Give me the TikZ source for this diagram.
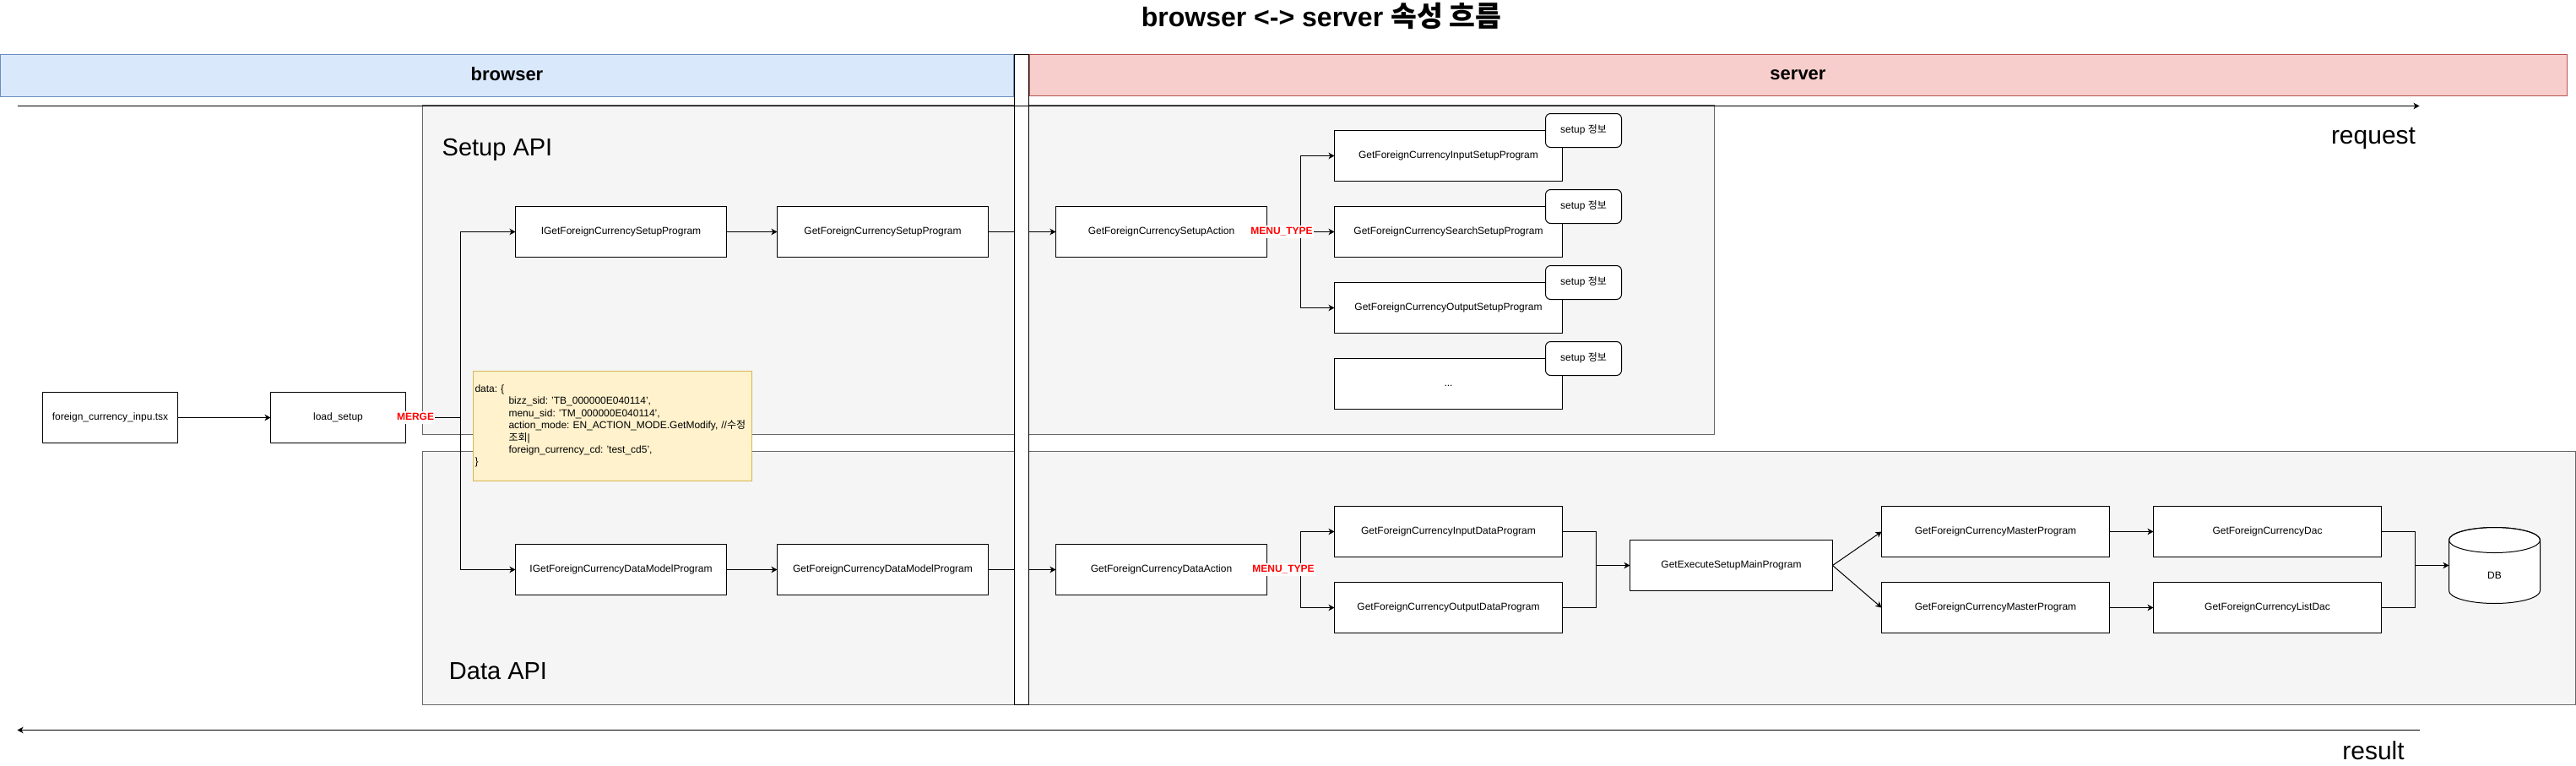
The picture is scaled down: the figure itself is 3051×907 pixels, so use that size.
\documentclass[tikz,border=0pt]{standalone}
\usepackage{fontspec}
\setmainfont{Liberation Sans}
\newfontfamily\cjk{Noto Sans CJK KR}
\usetikzlibrary{arrows.meta,calc}
\frenchspacing
\newcommand{\ko}[1]{{\cjk #1}}
\tikzset{
  px/.style={x=1pt,y=-1pt,line width=1pt},
  fsize/.style={font=\fontsize{#1}{#1}\selectfont},
  base/.style={inner sep=0pt,outer sep=0pt,align=center,text height=9pt,text depth=2.5pt,fsize=12},
  prog/.style={base,draw=black,fill=white,minimum width=250pt,minimum height=60pt},
  wideprog/.style={prog,minimum width=270pt},
  note/.style={base,draw=black,fill=white,rounded corners=6pt,minimum width=90pt,minimum height=40pt},
  group/.style={inner sep=0pt,outer sep=0pt},
  band/.style={inner sep=0pt,outer sep=0pt,font=\fontsize{22}{26}\selectfont\bfseries,minimum height=50pt,text height=16pt,text depth=4.5pt},
  big/.style={inner sep=0pt,anchor=base,font=\fontsize{30}{34}\selectfont},
  apititle/.style={big,font=\fontsize{29}{33}\selectfont},
  redlabel/.style={fill=white,text=red,inner xsep=1pt,inner ysep=2pt,outer sep=0pt,text height=9pt,text depth=2.5pt,font=\fontsize{12}{14}\selectfont\bfseries},
  arr/.style={draw=black,-{Stealth[length=7pt,width=7.5pt,inset=2pt]}},
}
\definecolor{bandblue}{HTML}{DAE8FC}
\definecolor{bandblueline}{HTML}{6C8EBF}
\definecolor{bandred}{HTML}{F8CECC}
\definecolor{bandredline}{HTML}{B85450}
\definecolor{noteyellow}{HTML}{FFF2CC}
\definecolor{noteyellowline}{HTML}{D6B656}
\definecolor{groupfill}{HTML}{F5F5F5}
\definecolor{groupline}{HTML}{666666}
\begin{document}
\begin{tikzpicture}[px]
\useasboundingbox (0,0) rectangle (3051,907);
\fill[white] (0,0) rectangle (3051,907);

% groups
\node[group,draw=groupline,fill=groupfill,minimum width=1530pt,minimum height=390pt] (setupgrp) at (1265.5,319.5) {};
\node[group,draw=groupline,fill=groupfill,minimum width=2550pt,minimum height=300pt] (datagrp) at (1775.5,684.5) {};

% title and bands
\node[inner sep=0pt,font=\fontsize{32}{36}\selectfont\bfseries] (title) at (1565,19) {browser <-> server {\cjk\bfseries\fontsize{33.5}{36}\selectfont 속성 흐름}};
\node[band,draw=bandblueline,fill=bandblue,minimum width=1200pt] (browser) at (600.5,89.5) {browser};
\node[band,draw=bandredline,fill=bandred,minimum width=1821pt,minimum height=49pt] (server) at (2129.5,89) {server};

% group captions
\node[apititle] (setuptitle) at (589,184) {Setup API};
\node[apititle] (datatitle) at (590,804) {Data API};
\node[big] (request) at (2811,170) {request};
\node[big] (result) at (2811,899) {result};

% boxes
\node[prog,minimum width=160pt] (tsx) at (130.5,494.5) {foreign\_currency\_inpu.tsx};
\node[prog,minimum width=160pt] (load) at (400.5,494.5) {load\_setup};

\node[prog] (isetup) at (735.5,274.5) {IGetForeignCurrencySetupProgram};
\node[prog] (gsetup) at (1045.5,274.5) {GetForeignCurrencySetupProgram};
\node[prog] (asetup) at (1375.5,274.5) {GetForeignCurrencySetupAction};

\node[wideprog] (pin) at (1715.5,184.5) {GetForeignCurrencyInputSetupProgram};
\node[wideprog] (psearch) at (1715.5,274.5) {GetForeignCurrencySearchSetupProgram};
\node[wideprog] (pout) at (1715.5,364.5) {GetForeignCurrencyOutputSetupProgram};
\node[wideprog] (pmore) at (1715.5,454.5) {...};

\node[note] (n1) at (1875.5,154.5) {setup \ko{정보}};
\node[note] (n2) at (1875.5,244.5) {setup \ko{정보}};
\node[note] (n3) at (1875.5,334.5) {setup \ko{정보}};
\node[note] (n4) at (1875.5,424.5) {setup \ko{정보}};

\node[prog] (idata) at (735.5,674.5) {IGetForeignCurrencyDataModelProgram};
\node[prog] (gdata) at (1045.5,674.5) {GetForeignCurrencyDataModelProgram};
\node[prog] (adata) at (1375.5,674.5) {GetForeignCurrencyDataAction};

\node[wideprog] (din) at (1715.5,629.5) {GetForeignCurrencyInputDataProgram};
\node[wideprog] (dout) at (1715.5,719.5) {GetForeignCurrencyOutputDataProgram};
\node[prog,minimum width=240pt] (exec) at (2050.5,669.5) {GetExecuteSetupMainProgram};
\node[wideprog] (m1) at (2363.5,629.5) {GetForeignCurrencyMasterProgram};
\node[wideprog] (m2) at (2363.5,719.5) {GetForeignCurrencyMasterProgram};
\node[wideprog] (dac) at (2685.5,629.5) {GetForeignCurrencyDac};
\node[wideprog] (ldac) at (2685.5,719.5) {GetForeignCurrencyListDac};

% DB
\draw[fill=white] (2900.5,639.5) -- (2900.5,699.5) arc[start angle=180,end angle=360,x radius=54pt,y radius=15pt] -- (3008.5,639.5) arc[start angle=0,end angle=180,x radius=54pt,y radius=15pt] -- cycle;
\draw (2954.5,639.5) ellipse [x radius=54pt,y radius=15pt];
\node[inner sep=0pt,outer sep=0pt,minimum width=108pt,minimum height=90pt] (db) at (2954.5,669.5) {};
\node[base] (dblabel) at (2954.5,682) {DB};

% connectors
\coordinate (mergeturn) at (545.5,494.5);
\coordinate (setupturn) at (1540.5,274.5);
\coordinate (dataturn) at (1540.5,674.5);
\coordinate (joinin) at (1890.5,669.5);
\coordinate (joindb) at (2860.5,669.5);

\draw[arr] (tsx) -- (load);
\draw[arr] (load.east) -- (mergeturn) |- (isetup.west);
\draw[arr] (mergeturn) |- (idata.west);
\draw[arr] (isetup) -- (gsetup);
\draw[arr] (gsetup) -- (asetup);
\draw[arr] (idata) -- (gdata);
\draw[arr] (gdata) -- (adata);

\draw[arr] (asetup.east) -- (psearch.west);
\draw[arr] (setupturn) |- (pin.west);
\draw[arr] (setupturn) |- (pout.west);
\draw (adata.east) -- (dataturn);
\draw[arr] (dataturn) |- (din.west);
\draw[arr] (dataturn) |- (dout.west);

\draw (din.east) -| (joinin);
\draw (dout.east) -| (joinin);
\draw[arr] (joinin) -- (exec.west);
\draw[arr] (exec.east) -- (m1.west);
\draw[arr] (exec.east) -- (m2.west);
\draw[arr] (m1) -- (dac);
\draw[arr] (m2) -- (ldac);
\draw (dac.east) -| (joindb);
\draw (ldac.east) -| (joindb);
\draw[arr] (joindb) -- (db.west);

% labels on connectors
\node[redlabel] (merge) at (492,494.5) {MERGE};
\node[redlabel] (menu1) at (1518,274.5) {MENU\_TYPE};
\node[redlabel] (menu2) at (1520,674.5) {MENU\_TYPE};

% centre column
\node[draw=black,fill=white,inner sep=0pt,outer sep=0pt,minimum width=17pt,minimum height=770pt] (col) at (1209.5,449.5) {};

% request / result
\coordinate (reqstart) at (20.5,125.5);
\coordinate (reqend) at (2865.5,125.5);
\coordinate (resstart) at (2865.5,864.5);
\coordinate (resend) at (20.5,864.5);
\draw[arr] (reqstart) -- (reqend);
\draw[arr] (resstart) -- (resend);

% payload note
\node[draw=noteyellowline,fill=noteyellow,inner sep=2pt,outer sep=0pt,minimum width=330pt,minimum height=130pt,text width=326pt,align=left,font=\fontsize{12}{14.4}\selectfont] (payload) at (725.5,504.5) {data: \{\\
\hspace*{40pt}bizz\_sid: 'TB\_000000E040114',\\
\hspace*{40pt}menu\_sid: 'TM\_000000E040114',\\
\hspace*{40pt}action\_mode: EN\_ACTION\_MODE.GetModify, //\ko{수정}\\
\hspace*{40pt}\ko{조회}|\\
\hspace*{40pt}foreign\_currency\_cd: 'test\_cd5',\\
\}};
\end{tikzpicture}
\end{document}
